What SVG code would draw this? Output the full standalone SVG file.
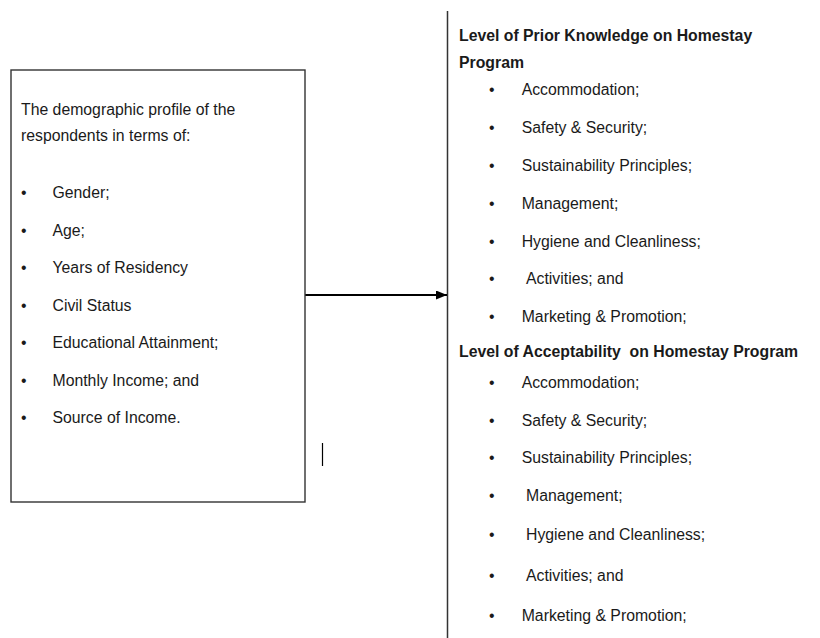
<svg xmlns="http://www.w3.org/2000/svg" width="820" height="638" viewBox="0 0 820 638">
<style>
text{font-family:"Liberation Sans",Arial,sans-serif;font-size:15.8px;fill:#1a1a1a}
.b{font-weight:bold}
.box{fill:#fff;stroke:#333;stroke-width:1.4}
.ln{stroke:#333;stroke-width:1.5;fill:none}
</style>
<defs>
<marker id="ah" markerWidth="11" markerHeight="9" refX="11" refY="4.5" orient="auto" markerUnits="userSpaceOnUse">
<path d="M0,0 L11,4.5 L0,9 Z" fill="#000"/>
</marker>
</defs>
<rect width="820" height="638" fill="#fff"/>
<g id="connectors">
<line class="ln" x1="447.5" y1="11" x2="447.5" y2="638"/>
<line x1="305" y1="295" x2="447" y2="295" stroke="#000" stroke-width="2" marker-end="url(#ah)"/>
<line x1="322.5" y1="443" x2="322.5" y2="466" stroke="#000" stroke-width="1.2"/>
</g>
<g id="demographic">
<rect class="box" x="11" y="70" width="294" height="432"/>
<text x="21" y="115">The demographic profile of the</text>
<text x="21" y="141">respondents in terms of:</text>
<text x="21" y="198">•</text><text x="52.5" y="198">Gender;</text>
<text x="21" y="235.5">•</text><text x="52.5" y="235.5">Age;</text>
<text x="21" y="273">•</text><text x="52.5" y="273">Years of Residency</text>
<text x="21" y="310.5">•</text><text x="52.5" y="310.5">Civil Status</text>
<text x="21" y="348">•</text><text x="52.5" y="348">Educational Attainment;</text>
<text x="21" y="385.5">•</text><text x="52.5" y="385.5">Monthly Income; and</text>
<text x="21" y="423">•</text><text x="52.5" y="423">Source of Income.</text>
</g>
<g id="knowledge">
<text class="b" x="459" y="41">Level of Prior Knowledge on Homestay</text>
<text class="b" x="459" y="67.5">Program</text>
<text x="489" y="95">•</text><text x="521.7" y="95">Accommodation;</text>
<text x="489" y="133">•</text><text x="521.7" y="133">Safety &amp; Security;</text>
<text x="489" y="171">•</text><text x="521.7" y="171">Sustainability Principles;</text>
<text x="489" y="208.5">•</text><text x="521.7" y="208.5">Management;</text>
<text x="489" y="246.5">•</text><text x="521.7" y="246.5">Hygiene and Cleanliness;</text>
<text x="489" y="284">•</text><text x="526" y="284">Activities; and</text>
<text x="489" y="321.5">•</text><text x="521.7" y="321.5">Marketing &amp; Promotion;</text>
</g>
<g id="acceptability">
<text class="b" x="459" y="357" xml:space="preserve">Level of Acceptability  on Homestay Program</text>
<text x="489" y="388">•</text><text x="521.7" y="388">Accommodation;</text>
<text x="489" y="425.5">•</text><text x="521.7" y="425.5">Safety &amp; Security;</text>
<text x="489" y="463">•</text><text x="521.7" y="463">Sustainability Principles;</text>
<text x="489" y="501">•</text><text x="526" y="501">Management;</text>
<text x="489" y="540">•</text><text x="526" y="540">Hygiene and Cleanliness;</text>
<text x="489" y="581">•</text><text x="526" y="581">Activities; and</text>
<text x="489" y="621">•</text><text x="521.7" y="621">Marketing &amp; Promotion;</text>
</g>
</svg>
